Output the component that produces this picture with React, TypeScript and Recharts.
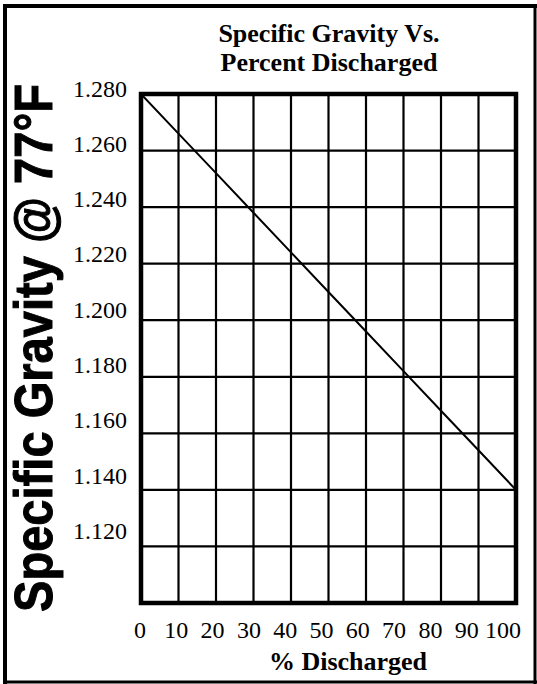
import React from 'react';
import {
  LineChart,
  Line,
  XAxis,
  YAxis,
  CartesianGrid,
  ReferenceArea,
  Label,
} from 'recharts';

// % discharged vs specific gravity
const percentDischarged = [0, 10, 20, 30, 40, 50, 60, 70, 80, 90, 100];
const specificGravity = [1.28, 1.266, 1.252, 1.238, 1.224, 1.21, 1.196, 1.182, 1.168, 1.154, 1.14];

const xTicks = [0, 10, 20, 30, 40, 50, 60, 70, 80, 90, 100];
const yTicks = [1.12, 1.14, 1.16, 1.18, 1.2, 1.22, 1.24, 1.26, 1.28];

const data = percentDischarged.map((pct, i) => ({ pct, sg: specificGravity[i] }));

const SERIF = '"Liberation Serif", "Times New Roman", serif';
const SANS = '"Liberation Sans", Arial, sans-serif';

const YTick = (props: any) => {
  const { x, y, payload } = props;
  const i = Math.round((1.28 - payload.value) / 0.02);
  return (
    <text x={x} y={y - 5.5 - 1.25 * i + 8} textAnchor="end" style={{ fontFamily: SERIF }} fontSize={24} fill="#000">
      {payload.value.toFixed(3)}
    </text>
  );
};

const XTick = (props: any) => {
  const { x, y, payload } = props;
  const i = Math.round(payload.value / 10);
  return (
    <text x={x - 1 - 1.2 * i} y={y + 35} textAnchor="middle" style={{ fontFamily: SERIF }} fontSize={24} fill="#000">
      {payload.value}
    </text>
  );
};

export default function App() {
  return (
    <div style={{ position: 'absolute', left: 0, top: 0, width: 537, height: 684, background: '#fff' }}>
      <svg width={537} height={684} style={{ position: 'absolute', left: 0, top: 0 }}>
        <line x1={5} y1={4} x2={5} y2={684} stroke="#000" strokeWidth={4} />
        <line x1={3} y1={6} x2={537} y2={6} stroke="#000" strokeWidth={4} />
        <line x1={535} y1={4} x2={535} y2={684} stroke="#000" strokeWidth={3} />
        <line x1={3} y1={682} x2={537} y2={682} stroke="#000" strokeWidth={3} />
        <text x={329} y={41.5} textAnchor="middle" style={{ fontFamily: SERIF }} fontWeight="bold" fontSize={26}>
          Specific Gravity Vs.
        </text>
        <text x={329} y={70.5} textAnchor="middle" style={{ fontFamily: SERIF }} fontWeight="bold" fontSize={26}>
          Percent Discharged
        </text>
      </svg>
      <div style={{ position: 'absolute', left: 0, top: 0 }}>
        <LineChart
          width={537}
          height={684}
          data={data}
          margin={{ top: 94, right: 21, bottom: 51, left: 81 }}
        >
          <CartesianGrid stroke="#000" strokeWidth={2.2} />
          <XAxis
            dataKey="pct"
            type="number"
            domain={[0, 100]}
            ticks={xTicks}
            height={30}
            axisLine={false}
            tickLine={false}
            tickSize={0}
            tickMargin={0}
            tick={<XTick />}
            interval={0}
          >
            <Label
              content={() => (
                <text x={348} y={670} textAnchor="middle" style={{ fontFamily: SERIF }} fontWeight="bold" fontSize={26} fill="#000">
                  % Discharged
                </text>
              )}
            />
          </XAxis>
          <YAxis
            type="number"
            domain={[1.1, 1.28]}
            ticks={yTicks}
            width={60}
            axisLine={false}
            tickLine={false}
            tickSize={0}
            tickMargin={14}
            tick={<YTick />}
            interval={0}
            allowDataOverflow
          >
            <Label
              content={() => (
                <text
                  x={52}
                  y={348}
                  transform="rotate(-90 52 348)"
                  textAnchor="middle"
                  style={{ fontFamily: SANS }}
                  fontWeight="bold"
                  fontSize={54}
                  textLength={528}
                  lengthAdjust="spacingAndGlyphs"
                  fill="#000"
                  stroke="#000"
                  strokeWidth={1}
                >
                  Specific Gravity @ 77°F
                </text>
              )}
            />
          </YAxis>
          <ReferenceArea
            x1={0}
            x2={100}
            y1={1.1}
            y2={1.28}
            fill="none"
            fillOpacity={0}
            stroke="#000"
            strokeWidth={4.5}
            strokeOpacity={1}
            ifOverflow="visible"
          />
          <Line
            dataKey="sg"
            stroke="#000"
            strokeWidth={2}
            dot={false}
            isAnimationActive={false}
            type="linear"
          />
        </LineChart>
      </div>
    </div>
  );
}
